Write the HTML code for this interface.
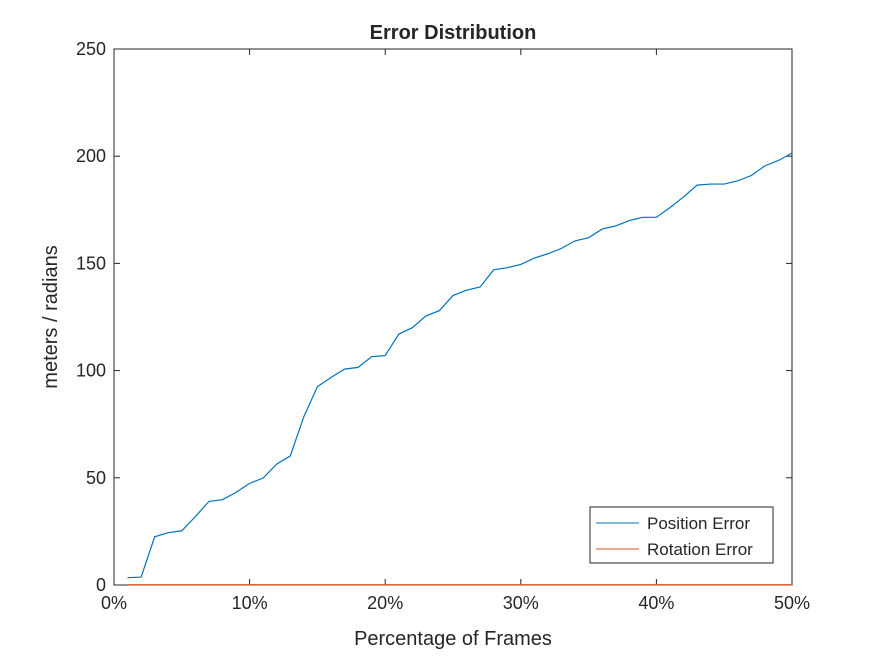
<!DOCTYPE html>
<html><head><meta charset="utf-8"><style>
body{margin:0;background:#fff;}
svg text{font-family:"Liberation Sans",Arial,sans-serif;fill:#262626;}
</style></head><body>
<svg id="chart" width="875" height="656" xmlns="http://www.w3.org/2000/svg">
<rect width="875" height="656" fill="#fff"/>
<rect x="114" y="49" width="678" height="536" fill="#fff" stroke="#262626" stroke-width="1"/>
<g id="ticks"></g>
<g id="series"></g>
<text x="453" y="39" text-anchor="middle" font-size="20" font-weight="bold" fill="#000">Error Distribution</text>
<text x="453" y="645" text-anchor="middle" font-size="20">Percentage of Frames</text>
<text transform="translate(57,317) rotate(-90)" text-anchor="middle" font-size="20">meters / radians</text>
<g>
<rect x="590" y="507" width="183" height="56" fill="#fff" stroke="#262626" stroke-width="1"/>
<line x1="596" y1="523" x2="639" y2="523" stroke="#0072BD" stroke-width="1"/>
<text x="647" y="529" font-size="17" fill="#000">Position Error</text>
<line x1="596" y1="549" x2="639" y2="549" stroke="#D95319" stroke-width="1"/>
<text x="647" y="555" font-size="17" fill="#000">Rotation Error</text>
</g>
</svg>
<script>
const xPercents=[1,2,3,4,5,6,7,8,9,10,11,12,13,14,15,16,17,18,19,20,21,22,23,24,25,26,27,28,29,30,31,32,33,34,35,36,37,38,39,40,41,42,43,44,45,46,47,48,49,50];
const positionError=[3.4,3.7,22.5,24.4,25.3,31.9,39,39.8,43.2,47.4,49.9,56.4,60.2,78.5,92.5,96.8,100.7,101.5,106.5,107,117,120,125.5,128,135,137.5,139,147,148,149.5,152.5,154.5,157,160.5,162,166,167.5,170,171.5,171.5,176,181,186.5,187,187,188.5,191,195.5,198,201.5];
const rotationError=xPercents.map(()=>0.1);
const xTicks=[0,10,20,30,40,50];
const yTicks=[0,50,100,150,200,250];
const X0=114,X1=792,Y0=585,Y1=49;
const xs=v=>X0+(v-0)/(50-0)*(X1-X0);
const ys=v=>Y0-(v-0)/(250-0)*(Y0-Y1);
const NS="http://www.w3.org/2000/svg";
const tg=document.getElementById('ticks');
xTicks.forEach(t=>{
  const l=document.createElementNS(NS,'line');
  
  
  l.setAttribute('x1',xs(t));l.setAttribute('x2',xs(t));l.setAttribute('y1',Y0);l.setAttribute('y2',Y0-6);
  l.setAttribute('stroke','#262626');tg.appendChild(l);
  const l2=document.createElementNS(NS,'line');
  
  
  l2.setAttribute('x1',xs(t));l2.setAttribute('x2',xs(t));l2.setAttribute('y1',Y1);l2.setAttribute('y2',Y1+6);
  l2.setAttribute('stroke','#262626');tg.appendChild(l2);
  const tx=document.createElementNS(NS,'text');
  
  
  tx.setAttribute('x',xs(t));tx.setAttribute('y',Y0+24);tx.setAttribute('text-anchor','middle');tx.setAttribute('font-size','18');
  tx.textContent=t+'%';tg.appendChild(tx);
});
yTicks.forEach(t=>{
  const l=document.createElementNS(NS,'line');
  
  
  l.setAttribute('x1',X0);l.setAttribute('x2',X0+6);l.setAttribute('y1',ys(t));l.setAttribute('y2',ys(t));
  l.setAttribute('stroke','#262626');tg.appendChild(l);
  const l2=document.createElementNS(NS,'line');
  
  
  l2.setAttribute('x1',X1);l2.setAttribute('x2',X1-6);l2.setAttribute('y1',ys(t));l2.setAttribute('y2',ys(t));
  l2.setAttribute('stroke','#262626');tg.appendChild(l2);
  const tx=document.createElementNS(NS,'text');
  
  
  tx.setAttribute('x',X0-8);tx.setAttribute('y',ys(t)+6);tx.setAttribute('text-anchor','end');tx.setAttribute('font-size','18');
  tx.textContent=t;tg.appendChild(tx);
});
const sg=document.getElementById('series');
function line(vals,color,name){
  const p=document.createElementNS(NS,'polyline');
  
  
  p.setAttribute('points',vals.map((v,i)=>xs(xPercents[i])+','+ys(v)).join(' '));
  p.setAttribute('fill','none');p.setAttribute('stroke',color);p.setAttribute('stroke-width','1.2');
  sg.appendChild(p);
}
line(positionError,'#0072BD','position-error-line');
line(rotationError,'#D95319','rotation-error-line');
</script>
</body></html>
